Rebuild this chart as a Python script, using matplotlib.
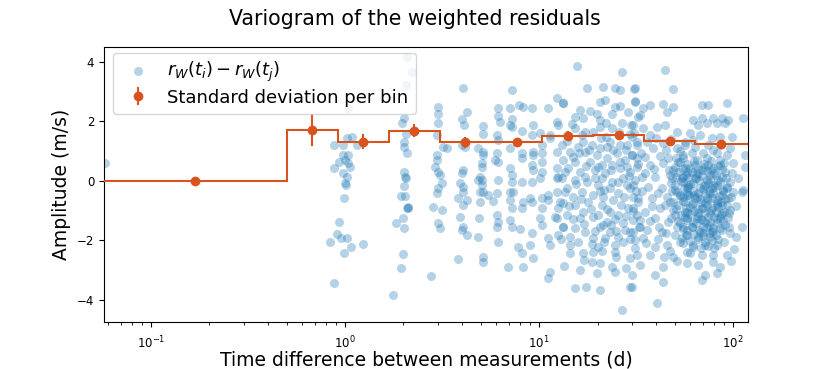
import numpy as np
import matplotlib
matplotlib.use("Agg")
import matplotlib.pyplot as plt

# ---------------- data ----------------
# pairs of (time lag in days, residual difference in m/s)
pts_short = [
    (0.058, 0.61),
    (0.877, 1.21), (0.976, 1.21), (1.024, 1.45), (1.087, 1.48), (1.153, 1.21),
    (0.877, 0.44), (0.93, 0.64), (1.0, 0.71), (1.036, 0.61), (0.976, 0.27),
    (1.024, 0.13), (1.0, -0.07), (1.012, -0.13), (0.99, -0.57), (0.93, -1.38),
    (0.84, -2.05), (0.91, -1.78), (0.95, -1.92), (1.024, -1.92), (1.074, -2.22),
    (0.99, -2.42), (1.238, -2.12), (0.877, -3.43), (0.976, 0.87), (1.036, 0.87),
    (1.061, 0.47), (1.036, 2.45),
]
pts_2d = [
    (2.09, 4.17), (2.21, 3.66), (2.06, 3.23), (2.01, 2.12), (1.97, 1.95),
    (2.06, 1.58), (2.01, 1.31), (2.01, 1.14), (2.09, 0.94), (2.01, 0.30),
    (2.04, 0.13), (2.06, 0.10), (2.01, -0.17), (1.94, -0.50), (2.04, -0.50),
    (2.09, -0.91), (2.11, -0.91), (2.10, -0.88), (1.99, -1.24), (1.83, -1.41),
    (2.01, -1.58), (1.99, -2.45), (1.94, -2.92), (1.77, -3.83),
]
pts_3d = [
    (3.02, 2.49), (3.02, 2.25), (3.02, 1.95), (2.98, 1.55), (3.20, 1.14),
    (3.36, 1.11), (2.98, 0.87), (2.98, 0.71), (2.91, 0.47), (3.02, 0.30),
    (3.09, 0.20), (3.16, -0.07), (3.02, -0.24), (2.98, -0.40), (2.84, -0.87),
    (3.16, -0.97), (3.02, -1.41), (3.09, -1.58), (2.77, -3.19),
]
pts_4d = [
    (4.06, 3.13), (4.25, 2.32), (4.01, 2.08), (4.11, 1.88), (4.01, 1.21),
    (4.15, 1.14), (4.06, 0.37), (4.01, 0.27), (3.92, -0.07), (4.06, -0.20),
    (4.06, -0.37), (3.82, -0.57), (4.25, -0.64), (4.06, -0.81), (3.92, -1.21),
    (4.06, -1.55), (4.01, -1.65), (4.25, -1.82), (3.82, -2.62),
]
pts_5d = [
    (5.14, 1.85), (5.14, 1.58), (4.85, 1.11), (5.14, 0.97), (5.14, 0.87),
    (5.08, 0.61), (5.08, 0.47), (4.96, 0.13), (5.08, 0.03), (4.85, 0.03),
    (5.08, -0.13), (4.96, -0.37), (5.14, -0.37), (4.96, -0.71), (5.46, -0.47),
    (4.91, -1.24), (4.85, -1.88), (5.14, -2.55), (5.14, -2.72),
]
pts_6d = [
    (6.15, 2.45), (6.15, 2.18), (6.30, 1.98), (6.08, 1.55), (6.15, 1.38),
    (6.08, 0.94), (5.93, 0.71), (6.15, 0.64), (6.15, 0.03), (6.08, -0.40),
    (5.79, -0.67), (6.08, -1.14), (6.15, -1.38), (6.08, -1.55), (6.15, -2.05),
]
pts_7d = [
    (7.26, 3.06), (7.09, 2.45), (7.26, 2.08), (7.09, 1.88), (7.26, 1.82),
    (8.17, 1.68), (7.09, 1.11), (8.17, 0.94), (8.17, 0.77), (7.09, 0.44),
    (7.26, 0.20), (7.26, -0.03), (8.17, -0.03), (7.09, -0.37), (7.35, -0.37),
    (7.09, -0.64), (7.26, -0.91), (8.27, -0.71), (8.17, -0.91), (7.09, -1.31),
    (7.26, -1.55), (7.98, -1.61), (7.79, -2.22), (8.17, -2.42), (6.92, -2.89),
    (8.27, -2.89), (7.89, 2.55), (8.27, 2.49),
]
pts_10d = [
    (9.20, 2.45), (9.31, 1.88), (9.20, 1.55), (10.1, 1.61), (9.31, 0.97),
    (9.31, 0.87), (10.4, 1.21), (10.4, 0.94), (9.20, 0.54), (9.31, 0.37),
    (10.4, 0.64), (10.4, 0.30), (10.1, 0.10), (9.20, -0.03), (8.99, -0.57),
    (9.20, -0.71), (10.4, -0.57), (10.4, -0.91), (11.1, -0.47), (11.1, -0.64),
    (10.1, -1.24), (10.4, -1.48), (9.20, -1.75), (8.99, -2.15), (9.31, -2.59),
    (11.4, -2.15), (11.1, -1.92), (11.1, -3.26), (11.4, -3.06), (11.1, 2.45),
    (11.4, 1.55), (11.4, 1.45), (12.4, 0.97), (12.4, 0.44), (12.4, 0.10),
    (12.5, 1.88), (12.4, 1.98), (12.4, 2.79), (13.3, 2.62), (12.4, -0.37),
    (13.3, -0.74), (12.4, -1.24), (12.5, -1.82), (13.3, -1.55), (12.1, -1.21),
    (12.5, -0.91), (13.6, -0.37), (12.5, 0.13),
]
pts_13_33d = [
    (15.7, 3.87), (26.8, 3.66), (17.7, 3.13), (21.4, 3.16), (24.6, 3.13),
    (26.2, 3.06), (30.9, 3.09), (13.3, 2.62), (20.6, 2.66), (21.9, 2.72),
    (24.6, 2.49), (26.2, 2.52), (31.2, 2.66), (16.3, 2.39), (15.3, 2.15),
    (16.9, 2.12), (19.9, 2.25), (20.6, 2.05), (23.8, 2.25), (26.8, 1.95),
    (29.8, 1.88), (32.4, 2.15), (15.3, 1.78), (20.6, 1.82), (23.8, 1.78),
    (17.3, 1.65), (19.0, 1.65), (13.9, 1.55), (29.5, 1.58), (32.0, 1.31),
    (13.1, 1.21), (15.9, 1.14), (18.8, 1.21), (20.6, 1.11), (22.4, 1.14),
    (28.4, 1.21), (14.5, 0.97), (17.3, 0.97), (19.9, 0.87), (25.2, 0.94),
    (30.1, 0.87), (13.3, 0.71), (15.3, 0.64), (18.3, 0.64), (22.4, 0.77),
    (27.8, 0.71), (32.0, 0.77), (14.1, 0.44), (16.3, 0.30), (19.4, 0.37),
    (21.9, 0.27), (26.2, 0.44), (29.5, 0.30), (13.1, 0.10), (15.3, 0.03),
    (17.7, -0.03), (21.1, 0.10), (23.8, -0.03), (27.1, 0.10), (31.2, 0.03),
    (13.9, -0.24), (16.7, -0.37), (19.0, -0.47), (23.2, -0.24), (25.5, -0.40),
    (29.5, -0.24), (12.8, -0.71), (15.3, -0.81), (17.9, -0.71), (21.1, -0.81),
    (24.0, -0.64), (28.8, -0.91), (32.4, -0.71), (13.9, -1.14), (16.3, -1.24),
    (19.0, -1.21), (22.4, -1.38), (25.5, -1.14), (30.5, -1.31), (13.3, -1.55),
    (15.3, -1.58), (17.3, -1.71), (20.6, -1.55), (23.2, -1.71), (27.8, -1.65),
    (14.5, -1.88), (19.0, -1.92), (21.9, -1.92), (25.5, -1.88), (31.2, -1.98),
    (14.5, -2.15), (18.8, -2.12), (24.6, -2.15), (14.5, -2.42), (16.9, -2.42),
    (19.0, -2.39), (24.6, -2.39), (29.5, -2.59), (18.8, -2.72), (20.6, -2.76),
    (23.8, -2.89), (32.0, -2.49), (16.3, -2.99), (24.6, -3.06), (30.1, -3.16),
    (15.3, -3.60), (17.5, -3.56), (20.6, -3.66), (29.5, -3.56), (26.8, -4.34),
    (16.9, 1.31), (23.2, 1.31), (26.2, 1.21), (15.0, 0.81), (23.8, 0.54),
    (28.4, 0.47), (21.1, 0.54), (17.3, 0.13), (20.1, -0.13), (28.4, -0.13),
    (21.4, -0.54), (30.5, -0.54), (15.0, -0.54), (16.9, -1.04), (23.2, -1.04),
    (20.1, -1.14), (21.4, -1.48), (27.1, -1.41), (29.5, -1.71), (15.9, -2.05),
    (20.1, -2.22),
    (14.0, 1.35), (16.0, 0.92), (18.0, 1.02), (20.0, 0.45), (22.0, 1.48),
    (24.0, 1.02), (26.0, 0.62), (28.0, 1.02), (30.0, 1.48), (32.5, 0.55),
    (13.6, 0.30), (15.5, -0.10), (17.5, 0.50), (19.5, 0.08), (21.5, -0.30),
    (23.5, 0.35), (25.5, -0.05), (27.5, -0.55), (29.0, 0.15), (31.5, -0.35),
    (14.3, -0.85), (16.5, -0.60), (18.5, -0.95), (20.5, -0.35), (22.5, -0.95),
    (24.5, -1.30), (26.5, -0.80), (28.0, -1.20), (30.5, -1.00), (32.8, -1.55),
    (13.0, -1.95), (15.0, -1.30), (17.0, -1.45), (19.5, -1.70), (21.5, -2.05),
    (23.5, -1.50), (25.0, -1.70), (27.0, -2.05), (29.5, -1.95), (31.8, -1.15),
    (14.8, 1.90), (18.2, 2.35), (22.0, 1.95), (25.8, 1.65), (28.6, 2.30),
    (31.0, 1.60), (16.6, 1.55), (20.8, 1.45), (17.0, -2.65), (21.0, -2.35),
    (25.0, -2.55), (28.0, -2.95), (13.5, -2.85), (19.8, -3.10),
]
pts_30_60d = [
    (44.6, 3.73), (31.2, 3.13), (49.1, 3.09), (31.2, 2.69), (34.4, 2.45),
    (37.3, 2.55), (43.6, 2.59), (49.1, 2.49), (45.7, 2.32), (33.2, 2.22),
    (30.5, 1.88), (34.4, 1.78), (40.5, 1.82), (44.6, 1.88), (51.4, 1.65),
    (37.3, 1.55), (56.6, 1.31), (32.0, 1.21), (38.7, 1.11), (43.6, 1.28),
    (51.4, 1.11), (30.1, 0.87), (35.2, 0.81), (46.2, 0.77), (55.2, 0.87),
    (32.0, 0.47), (37.3, 0.54), (43.6, 0.61), (50.2, 0.47), (56.6, 0.44),
    (33.9, 0.13), (39.6, 0.13), (47.3, 0.20), (54.6, 0.10), (30.5, -0.13),
    (36.5, -0.20), (43.1, -0.24), (50.2, -0.13), (57.9, -0.24), (32.4, -0.57),
    (38.2, -0.57), (45.7, -0.54), (53.3, -0.47), (30.5, -0.91), (35.2, -1.04),
    (42.0, -0.91), (49.1, -0.97), (56.6, -1.04), (33.2, -1.31), (39.6, -1.24),
    (46.2, -1.38), (53.3, -1.41), (30.5, -1.71), (36.1, -1.65), (43.1, -1.71),
    (50.2, -1.82), (57.9, -1.65), (34.4, -1.92), (39.6, -2.22), (45.7, -2.15),
    (53.3, -2.05), (31.2, -2.25), (37.3, -2.49), (49.1, -2.55), (57.9, -2.39),
    (33.2, -2.82), (43.6, -2.89), (39.6, -3.16), (30.1, -3.56), (43.6, -3.39),
    (40.5, -4.10),
    (52.1, 0.30), (55.2, -0.03), (51.4, -0.37), (56.6, -0.71), (52.1, -0.81),
    (57.9, -1.24), (51.4, -1.55), (54.6, -1.92), (48.5, 0.10), (53.3, 0.64),
    (58.6, 0.13), (47.3, -0.71), (58.6, -0.47), (50.2, -1.14), (55.2, -1.55),
    (33.5, 0.95), (36.0, 1.30), (40.0, 1.45), (45.0, 1.05), (48.0, 1.40),
    (53.0, 1.00), (35.0, 0.25), (39.0, 0.40), (42.0, 0.85), (46.5, 0.35),
    (50.5, 0.75), (34.0, -0.35), (38.0, -0.85), (41.0, -0.40), (44.5, -0.80),
    (48.5, -0.35), (33.0, -1.55), (37.5, -1.35), (41.5, -1.55), (45.0, -1.75),
    (48.0, -1.25), (35.5, -2.10), (41.0, -1.95), (47.0, -2.35), (51.5, -2.70),
    (44.0, -2.55),
]
pts_55_115d = [
    (69.2, 2.55), (74.3, 2.55), (93.1, 2.62), (113, 2.12), (62.2, 2.05),
    (69.2, 2.12), (78.9, 2.12), (87.7, 2.12), (94.2, 2.05), (66.0, 1.88),
    (73.4, 1.95), (82.7, 1.95), (91.0, 1.95), (60.0, 1.61), (67.6, 1.55),
    (85.7, 1.48), (98.8, 1.48), (56.6, 1.21), (63.7, 1.14), (74.3, 1.21),
    (78.9, 1.04), (96.5, 1.11), (115, 0.87), (93.1, 0.87), (55.2, 0.77),
    (65.2, 0.71), (73.4, 0.77), (85.7, 0.71), (100, 0.61), (115, 0.47),
    (60.0, 0.44), (69.2, 0.37), (78.9, 0.44), (91.0, 0.30), (106, 0.10),
    (55.2, 0.13), (63.7, 0.10), (73.4, 0.03), (83.7, 0.03), (96.5, -0.03),
    (58.6, -0.20), (67.6, -0.24), (77.9, -0.24), (88.7, -0.30), (100, -0.37),
    (113, -0.30), (111, -0.37), (55.2, -0.54), (63.7, -0.57), (73.4, -0.57),
    (82.7, -0.64), (94.2, -0.57), (60.0, -0.87), (69.2, -0.91), (77.9, -0.91),
    (87.7, -0.81), (96.5, -0.97), (56.6, -1.21), (65.2, -1.24), (74.3, -1.21),
    (85.7, -1.24), (94.2, -1.24), (111, -1.55), (61.5, -1.55), (70.0, -1.55),
    (78.9, -1.58), (87.7, -1.65), (96.5, -1.75), (57.9, -1.82), (66.0, -1.88),
    (76.1, -1.88), (55.2, -2.08), (62.2, -2.15), (71.7, -2.15), (82.7, -2.15),
    (60.0, -2.42), (69.2, -2.49), (78.9, -2.49), (93.1, -2.49), (57.9, -2.76),
    (66.0, -2.82), (78.9, -2.72), (85.7, -2.89), (71.7, -3.16), (82.7, -3.09),
    (69.2, -3.33),
    (57.9, 0.30), (66.0, 0.27), (76.1, 0.20), (87.7, 0.13), (62.2, -0.07),
    (71.7, -0.13), (82.7, -0.13), (93.1, -0.20), (57.9, -0.40), (66.0, -0.40),
    (76.1, -0.40), (87.7, -0.47), (62.2, -0.74), (71.7, -0.74), (82.7, -0.81),
    (93.1, -0.81), (57.9, -1.04), (66.0, -1.08), (76.1, -1.08), (87.7, -1.08),
    (62.2, -1.38), (71.7, -1.38), (82.7, -1.41), (67.6, -1.71), (77.9, -1.71),
    (91.0, -1.48), (85.7, 0.54), (74.3, 0.54), (63.7, 0.54), (61.5, 0.94),
    (70.0, 0.94), (82.7, 0.94), (85.7, 1.21), (77.9, 1.45), (62.2, 1.38),
]
pts_core = [
    (52, 0.62), (58, 0.55), (63, 0.68), (71, 0.58), (77, 0.66), (84, 0.49), (90, 0.60),
    (49, 0.35), (55, 0.41), (61, 0.29), (66, 0.38), (73, 0.33), (80, 0.27), (88, 0.40),
    (51, 0.12), (57, 0.18), (64, 0.09), (69, 0.16), (76, 0.06), (82, 0.21), (92, 0.11),
    (48, -0.08), (54, -0.02), (60, -0.11), (67, 0.01), (74, -0.06), (79, -0.14), (86, -0.03),
    (50, -0.31), (56, -0.25), (62, -0.36), (70, -0.28), (75, -0.33), (81, -0.22), (89, -0.35),
    (53, -0.52), (59, -0.47), (65, -0.55), (72, -0.44), (78, -0.58), (85, -0.50), (91, -0.61),
    (49, -0.72), (55, -0.68), (61, -0.79), (68, -0.70), (74, -0.65), (83, -0.75),
    (51, -0.96), (57, -0.91), (63, -1.01), (70, -0.93), (77, -0.98), (84, -0.88), (90, -1.05),
    (54, -1.16), (60, -1.12), (66, -1.19), (72, -1.10), (80, -1.22), (87, -1.14),
    (52, -1.36), (58, -1.31), (64, -1.42), (69, -1.33), (76, -1.39), (83, -1.30),
    (55, -1.61), (61, -1.57), (67, -1.64), (73, -1.55), (79, -1.68), (86, -1.59),
    (57, -1.82), (63, -1.78), (70, -1.86), (75, -1.75), (82, -1.84),
    (60, -2.02), (66, -1.97), (72, -2.06), (78, -2.00), (84, -1.95),
    (62, -2.22), (68, -2.27), (74, -2.19), (80, -2.25),
    (64.5, 0.22), (70.5, -0.17), (67.5, -0.62), (73.5, -0.83), (68.5, -1.27),
    (75.5, -1.48), (71.0, 0.45), (66.0, -0.95), (78.5, -0.40), (62.5, -0.48),
    (81.5, -1.05), (69.5, -1.75), (58.5, -0.15), (76.5, 0.35), (86.5, -0.70),
    (88.5, -1.35), (92.5, -0.25), (95.5, -1.10), (97.5, -0.55), (99.0, 0.25),
    (103, -0.85), (104, -1.90), (101, -2.30), (98, -2.70), (90, -2.05), (95, -1.55),
]

# binned standard deviation
bin_edges = [0.0573, 0.50, 0.918, 1.68, 3.08, 5.65, 10.4, 19.0, 34.8, 63.7, 119.0]
bin_centers = [0.169, 0.677, 1.24, 2.27, 4.17, 7.66, 14.1, 25.7, 47.1, 86.3]
bin_std = [0.0, 1.71, 1.31, 1.68, 1.29, 1.30, 1.50, 1.55, 1.35, 1.23]
bin_err = [0.0, 0.55, 0.25, 0.22, 0.18, 0.12, 0.16, 0.14, 0.12, 0.12]

# ---------------- plot ----------------
all_pts = (pts_short + pts_2d + pts_3d + pts_4d + pts_5d + pts_6d + pts_7d
           + pts_10d + pts_13_33d + pts_30_60d + pts_55_115d + pts_core)
lag = np.array([p[0] for p in all_pts])
amp = np.array([p[1] for p in all_pts])

fig = plt.figure(figsize=(8.3, 3.69), dpi=100)
ax = fig.add_axes([0.1253, 0.1274, 0.7757, 0.7452])

blue = '#1f77b4'
orange = '#d9531e'

ax.scatter(lag, amp, s=42, color=blue, alpha=0.33, linewidths=0,
           label=r'$r_W(t_i) - r_W(t_j)$', zorder=2)
ax.stairs(bin_std, bin_edges, baseline=None, color=orange, lw=1.5, zorder=3)
ax.errorbar(bin_centers, bin_std, yerr=bin_err, fmt='o', color=orange,
            ms=6, elinewidth=1.5, label='Standard deviation per bin', zorder=4)

ax.set_xscale('log')
ax.set_xlim(bin_edges[0], bin_edges[-1])
ax.set_ylim(-4.75, 4.5)
ax.set_yticks([-4, -2, 0, 2, 4])
ax.tick_params(labelsize=8.5)
ax.tick_params(axis='x', which='major', pad=6)

ax.set_xlabel('Time difference between measurements (d)', fontsize=13.5, labelpad=-1)
ax.set_ylabel('Amplitude (m/s)', fontsize=13.5)
fig.suptitle('Variogram of the weighted residuals', fontsize=14.8, y=0.975)

ax.legend(loc='upper left', bbox_to_anchor=(0.014, 0.979), borderaxespad=0,
          fontsize=13, labelspacing=0.25, handletextpad=0.6)

fig.savefig('out.png', dpi=100)
